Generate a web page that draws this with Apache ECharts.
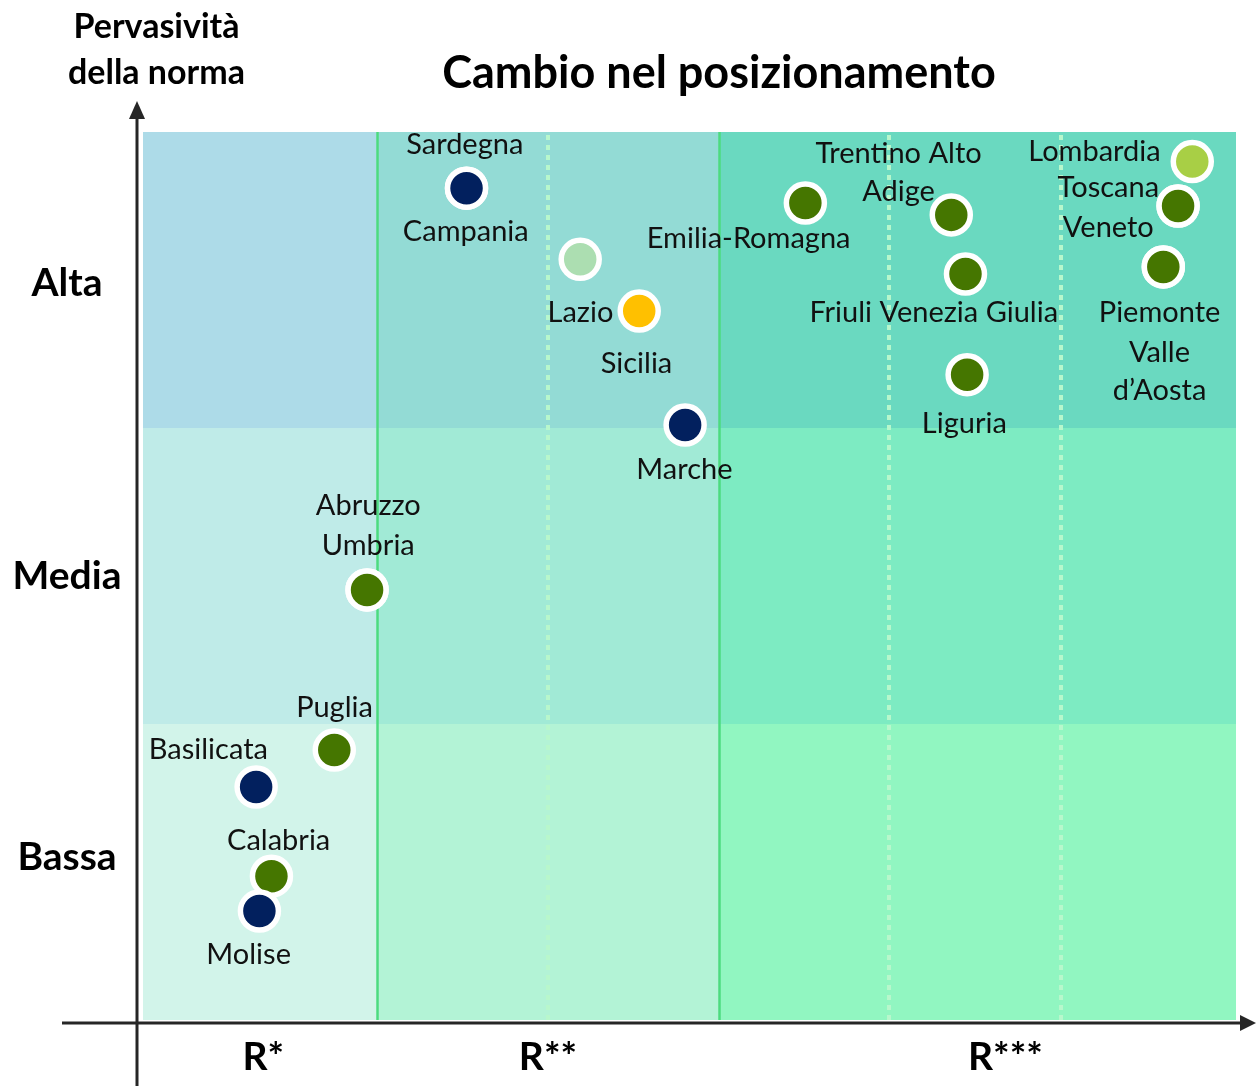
<!DOCTYPE html>
<html>
<head>
<meta charset="utf-8">
<title>Cambio nel posizionamento</title>
<script src="https://cdn.jsdelivr.net/npm/echarts@6/dist/echarts.min.js"></script>
<style>
  html, body { margin: 0; padding: 0; background: #fff; }
  #chart { width: 1256px; height: 1086px; }
</style>
</head>
<body>
<div id="chart"></div>
<script>
// bande (R*, R**, R*** sull'asse x; Bassa/Media/Alta sull'asse y)
const xBandEdges = [0, 21.4, 52.7, 100];
const yBandEdges = [0, 1, 2, 3];
const xTickLabels = ['R*', 'R**', 'R***'];
const xTickPos = [11, 37.05, 78.9];
const yTickLabels = ['Bassa', 'Media', 'Alta'];
const yTickPos = [0.55, 1.5, 2.49];
const subDividers = [37.05, 68.25, 84.0];

// regioni
const regions = ['Sardegna', 'Campania', 'Lazio', 'Sicilia', 'Marche', 'Emilia-Romagna',
  'Trentino Alto Adige', 'Friuli Venezia Giulia', 'Liguria', 'Lombardia', 'Toscana', 'Veneto',
  'Piemonte', "Valle d'Aosta", 'Abruzzo', 'Umbria', 'Puglia', 'Basilicata', 'Calabria', 'Molise'];
const regionX = [29.6, 29.6, 40.0, 45.4, 49.6, 60.6, 73.95, 75.25, 75.4, 96.0, 94.7, 94.7,
  93.35, 93.35, 20.5, 20.5, 17.5, 10.35, 11.75, 10.65];
const regionY = [2.81, 2.81, 2.57, 2.395, 2.01, 2.76, 2.72, 2.52, 2.18, 2.90, 2.75, 2.75,
  2.544, 2.544, 1.453, 1.453, 0.912, 0.787, 0.486, 0.368];
const regionGroup = ['blu', 'blu', 'verdechiaro', 'giallo', 'blu', 'verde', 'verde', 'verde', 'verde',
  'lime', 'verde', 'verde', 'verde', 'verde', 'verde', 'verde', 'verde', 'blu', 'verde', 'blu'];

// stili
const groupColors = { blu: '#02205E', verde: '#457600', verdechiaro: '#ACDEB1', giallo: '#FFC000', lime: '#A8CF45' };
const cellColors = [
  ['#D2F4EA', '#B3F3D6', '#91F6C1'], // Bassa
  ['#BFEBE8', '#A1EAD6', '#7DEBC2'], // Media
  ['#ADDBE8', '#93DBD5', '#6AD9C0']  // Alta
];
// testo e posizione delle etichette [dx, dy] rispetto al centro del punto
const labelLayout = {
  'Sardegna': [1, -41],
  'Campania': [2, 46],
  'Lazio': [3, 56],
  'Sicilia': [0, 55],
  'Marche': [2, 47],
  'Emilia-Romagna': [-54, 38],
  'Trentino Alto Adige': [-50, -39, 'Trentino Alto\nAdige'],
  'Friuli Venezia Giulia': [-29, 41],
  'Liguria': [0, 52],
  'Lombardia': [-95, -7],
  'Toscana': [-67, -16],
  'Veneto': [-67, 24],
  'Piemonte': [-1, 48],
  "Valle d'Aosta": [-1, 107, 'Valle\nd\u2019Aosta'],
  'Abruzzo': [4, -82],
  'Umbria': [4, -42],
  'Puglia': [3, -40],
  'Basilicata': [-45, -35],
  'Calabria': [10, -33],
  'Molise': [-8, 46]
};

const FONT = 'Lato, "Open Sans", sans-serif';
const SYMBOL = 38;

const chart = echarts.init(document.getElementById('chart'));

// celle di sfondo
const areas = [];
for (let r = 0; r < 3; r++) {
  for (let c = 0; c < 3; c++) {
    areas.push([
      { xAxis: xBandEdges[c], yAxis: yBandEdges[r], itemStyle: { color: cellColors[r][c], opacity: 1 } },
      { xAxis: xBandEdges[c + 1], yAxis: yBandEdges[r + 1] }
    ]);
  }
}

// linee verticali
const lines = [];
xBandEdges.slice(1, 3).forEach(v => {
  lines.push({ xAxis: v, lineStyle: { color: '#4CDB7F', width: 2.5, type: 'solid' } });
});
subDividers.forEach(v => {
  lines.push({ xAxis: v, lineStyle: { color: '#B8F7CC', width: 4, type: [5, 5] } });
});

const points = regions.map((name, i) => {
  const lay = labelLayout[name];
  return {
    name: name,
    value: [regionX[i], regionY[i]],
    itemStyle: { color: groupColors[regionGroup[i]] },
    label: {
      position: [SYMBOL / 2 + lay[0], SYMBOL / 2 + lay[1]],
      formatter: lay[2] || name
    }
  };
});

const option = {
  animation: false,
  title: {
    text: 'Cambio nel posizionamento',
    left: 714,
    top: 46,
    textAlign: 'center',
    textStyle: { fontFamily: FONT, fontSize: 45, fontWeight: 'bold', color: '#000' }
  },
  grid: { left: 143, right: 20, top: 132, bottom: 66 },
  xAxis: {
    type: 'value',
    min: 0,
    max: 100,
    axisLine: { show: false },
    axisTick: { show: false },
    splitLine: { show: false },
    axisLabel: {
      customValues: xTickPos,
      formatter: v => xTickLabels[xTickPos.indexOf(v)] || '',
      margin: 18,
      fontFamily: FONT,
      fontSize: 39,
      fontWeight: 'bold',
      color: '#000'
    }
  },
  yAxis: {
    type: 'value',
    min: 0,
    max: 3,
    axisLine: { show: false },
    axisTick: { show: false },
    splitLine: { show: false },
    axisLabel: {
      customValues: yTickPos,
      formatter: v => yTickLabels[yTickPos.indexOf(v)] || '',
      margin: 76,
      align: 'center',
      fontFamily: FONT,
      fontSize: 39,
      fontWeight: 'bold',
      color: '#000'
    }
  },
  graphic: [
    {
      type: 'text',
      left: 163 - 95,
      top: 4,
      style: {
        text: 'Pervasività\ndella norma',
        x: 95,
        textAlign: 'center',
        font: 'bold 34px ' + FONT,
        lineHeight: 46,
        fill: '#000'
      }
    },
    // asse y con freccia
    { type: 'line', shape: { x1: 137, y1: 1086, x2: 137, y2: 114 }, style: { stroke: '#262626', lineWidth: 3 }, z: 10 },
    { type: 'polygon', shape: { points: [[137, 101], [129, 119], [145, 119]] }, style: { fill: '#262626' }, z: 10 },
    // asse x con freccia
    { type: 'line', shape: { x1: 62, y1: 1023, x2: 1242, y2: 1023 }, style: { stroke: '#262626', lineWidth: 3 }, z: 10 },
    { type: 'polygon', shape: { points: [[1256, 1023], [1240, 1015], [1240, 1031]] }, style: { fill: '#262626' }, z: 10 }
  ],
  series: [
    {
      type: 'scatter',
      symbolSize: SYMBOL,
      itemStyle: { borderColor: '#fff', borderWidth: 5.5, opacity: 1 },
      label: {
        show: true,
        align: 'center',
        verticalAlign: 'middle',
        fontFamily: FONT,
        fontSize: 29,
        lineHeight: 38,
        color: '#111'
      },
      labelLayout: { hideOverlap: false },
      data: points,
      markArea: { silent: true, data: areas },
      markLine: { silent: true, symbol: 'none', label: { show: false }, data: lines },
      z: 5
    }
  ]
};

chart.setOption(option);
</script>
</body>
</html>
